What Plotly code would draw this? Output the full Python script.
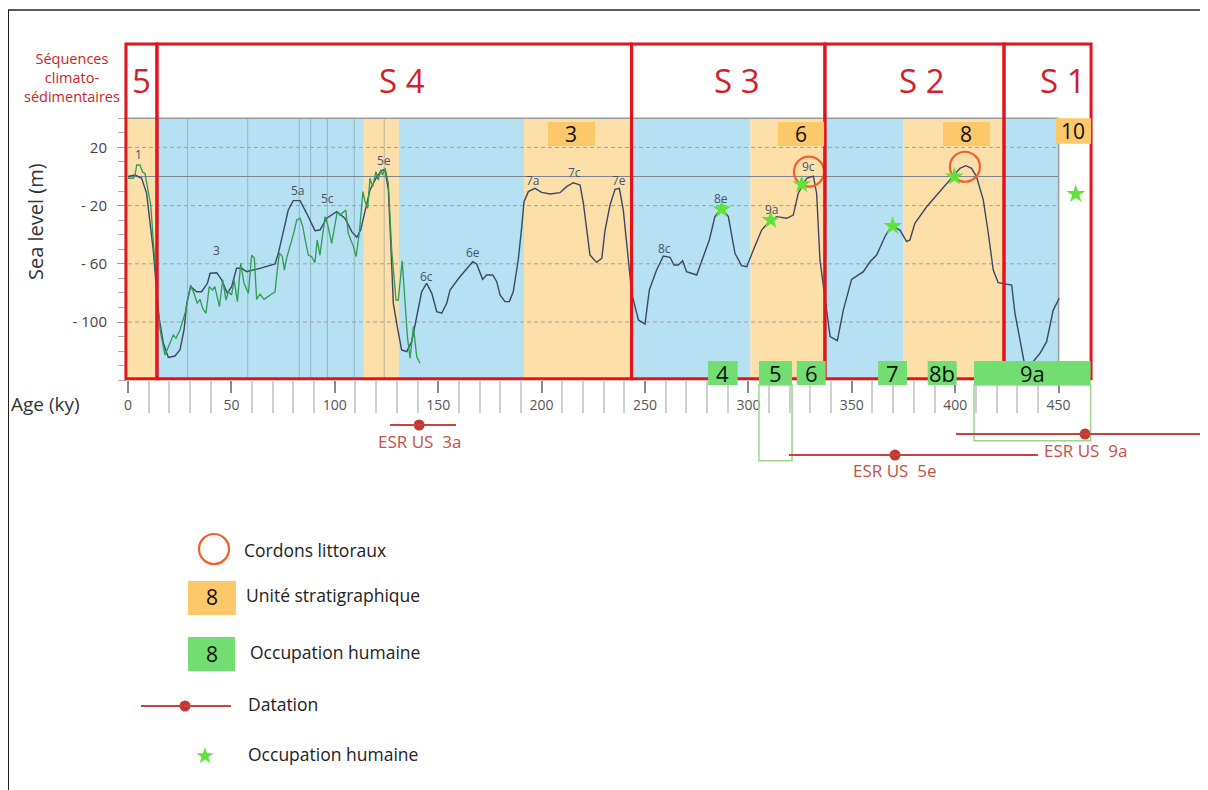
import plotly.graph_objects as go

# ---------------- data ----------------
# sea-level curve (dark) : age (ky) / sea level (m)
dark_age = [0, 3.4, 6.6, 9, 12.2, 14.7, 17.1, 19.5, 22.7, 25.1,
            27.1, 28.4, 30.3, 33.2, 35.6, 38.4, 39.7, 42.9, 45.3, 48,
            50.1, 52.5, 55, 57.4, 63.8, 71.1, 72.7, 75.1, 77.5, 79.9,
            83.2, 86.4, 90.4, 92.8, 96.1, 100.9, 104.9, 108.2, 110.6, 112.5,
            114.6, 117, 120.3, 122.7, 124.3, 125.9, 127, 128.3, 130.2, 132.3,
            134.8, 137.2, 139.6, 142, 144.4, 146.9, 149.3, 151.7, 154.1, 155.7,
            160.5, 163.8, 166.7, 168.6, 171.5, 173.4, 176.4, 178.3, 179.9, 182.3,
            184.4, 186.3, 188.7, 190.4, 191.5, 193.6, 196.8, 200, 204.1, 208.9,
            212.1, 215.3, 218.6, 220.2, 221.8, 223.4, 226.6, 229.1, 230.7, 233.1,
            235.5, 237.6, 239.5, 241.1, 243.6, 246.8, 250, 252.1, 255.6, 258.9,
            262.1, 264, 266.1, 268.2, 270.1, 275, 276.9, 281.1, 283.8, 287.1,
            290.3, 293.5, 296.7, 299.2, 302.4, 306.4, 310.8, 313.6, 318.5, 321.7,
            324.1, 328.2, 331.4, 333, 334.6, 337, 339.5, 343, 345.9, 349.9,
            355.6, 358.8, 362, 366, 369.2, 373.3, 376.5, 378.1, 380.5, 386.2,
            392.6, 399.1, 402.3, 405.1, 407.9, 410.3, 413.6, 416, 418.4, 420.8,
            424.1, 427.3, 428.9, 431.3, 433.3, 435.5, 437.8, 441, 444.2, 447.4, 450.3]
dark_m = [0, 1, -1.2, -11.6, -50.5, -94, -114.6, -124.3, -123.4, -119.2,
          -105.5, -87.2, -75.7, -79.2, -79.2, -73.4, -66.5, -66.1, -71.1, -80.3,
          -75.7, -63.1, -63.1, -65.4, -63.1, -60.1, -52.8, -36.8, -23, -16.6,
          -16.6, -25.3, -37.2, -36.8, -28.7, -24.2, -28.7, -37.9, -41.8, -36.8,
          -23, -9.3, -0.1, 4, 4.9, -9.3, -43.6, -87.2, -103.2, -119.2,
          -120.4, -113.5, -96.4, -79.2, -73.4, -80.3, -92.9, -94, -87.2, -78,
          -68.9, -63.1, -58.6, -60.1, -70.7, -67.7, -67.7, -72.3, -81.4, -86,
          -86, -79.2, -57.4, -34.5, -17.3, -10.4, -8.1, -10.9, -12, -11.1,
          -7, -4.3, -5.8, -18.4, -36.8, -54, -59, -56.2, -36.8, -19.6,
          -8.8, -8.1, -23, -43.6, -80.3, -98.6, -101.4, -78, -64.3, -54.6,
          -55.5, -60.8, -60.8, -57.9, -65.4, -67.7, -59.7, -43.6, -27.6, -21.9,
          -27.6, -52.8, -61.3, -62, -50.5, -36.8, -29.9, -27.6, -28.7, -26.5,
          -11.5, -1.2, 0.3, -11.5, -57.4, -84, -110, -112.8, -91.8, -70.7,
          -65.4, -58.6, -54, -41.4, -34, -36.8, -44.8, -43.6, -32.2, -20.8,
          -10.4, -0.1, 5.6, 7.4, 5.6, -0.1, -16.2, -39, -64.3, -73,
          -73.9, -74.6, -94, -112.4, -127.3, -131, -127.3, -121.5, -113.5, -91.8, -83.7]

# second sea-level record (green)
green_age = [0, 2.6, 3.4, 4.2, 5.8, 7.1, 8.2, 9.8, 11, 12.2,
             13.9, 15.5, 17.9, 19.5, 21.9, 23.2, 25.1, 27.6, 29.2, 30.3,
             31.9, 33.5, 34.8, 36.1, 37.7, 39.3, 40.9, 42, 44.2, 45.8,
             47.4, 48.5, 50.1, 51.3, 52.9, 54.5, 56.1, 58.2, 59.8, 61.1,
             62.2, 63.8, 65.8, 68.7, 71.1, 72.2, 73.2, 74.6, 75.6, 76.7,
             78, 79.2, 80.3, 81.6, 83.2, 84.5, 85.7, 87.2, 88.8, 90.4,
             91.5, 92.8, 95.3, 96.4, 98.5, 101.2, 102.5, 105.3, 106.5, 109,
             110.3, 111.9, 113.6, 114.6, 115.9, 117, 118.3, 119.9, 121, 122.2,
             123.1, 124.3, 125.9, 127.5, 129.6, 130.7, 132.6, 133.9, 135.1, 136.4,
             138, 139.6, 141.2]
green_m = [-1.2, -1.2, 1, 7.9, 7.9, 2.9, 2.2, -11.5, -19.6, -43.6,
           -78, -105.5, -122.7, -117, -108.9, -111.2, -105.5, -94, -82.6, -74.6,
           -80.3, -87.2, -84.4, -90.6, -94, -75.7, -78, -75.7, -89.5, -71.1,
           -84.9, -79.2, -81.4, -71.1, -86, -59.7, -73.4, -80.3, -54, -56.2,
           -84.4, -80.8, -84.4, -81.4, -79.2, -64.3, -52.8, -54.8, -64.3, -56.2,
           -50.5, -43.6, -37.9, -29.9, -28.7, -34.5, -43.6, -54, -55.1, -59.2,
           -43.6, -54, -27.6, -32.2, -45.9, -24.2, -26.5, -23, -39, -48.2,
           -55.1, -37.9, -10.4, -17.3, -21.9, -1.2, -7, 3.3, -2.4, 4.5,
           1, 5.6, -4.7, -50.5, -84.9, -84.9, -57.9, -82.6, -110.1, -125,
           -103.2, -123.8, -128.4]

# isotope (sub)stage labels on the curve
stage_labels = ["1", "3", "5a", "5c", "5e", "6c", "6e", "7a", "7c", "7e", "8c", "8e", "9a", "9c"]
stage_age = [5, 42.9, 82.4, 96.4, 123.9, 144.4, 166.7, 195.7, 215.7, 237.6, 259.2, 286.8, 311.3, 329]
stage_m = [14.8, -51, -9.8, -15, 10.9, -68.9, -52.4, -2.9, 2.6, -2.9, -49.8, -15, -23, 6.7]

# warm (orange) / cold (blue) bands
band_start = [0, 14, 114, 131, 191.5, 243.5, 301, 337, 375, 423.6]
band_end = [14, 114, 131, 191.5, 243.5, 301, 337, 375, 423.6, 450]
band_kind = ["warm", "cold", "warm", "cold", "warm", "cold", "warm", "cold", "warm", "cold"]
substage_lines = [28.8, 57.9, 82.8, 88.3, 96.4, 109.4, 123.9]

# climato-sedimentary sequences
seq_labels = ["5", "S 4", "S 3", "S 2", "S 1"]
seq_start = [-1, 14, 243.5, 337, 423.6]
seq_end = [14, 243.5, 337, 423.6, 465.7]
seq_label_age = [6.3, 132.5, 294.5, 384, 452]

# stratigraphic units (orange boxes)
unit_labels = ["3", "6", "8", "10"]
unit_start = [203.1, 314.3, 394.1, 448.6]
unit_end = [225.8, 336.6, 416.8, 465.7]
unit_bottom = [21, 21, 21, 22.5]
unit_top = [37.5, 37.5, 37.5, 40]

# human occupation levels (green boxes)
occ_labels = ["4", "5", "6", "7", "8b", "9a"]
occ_start = [280.5, 305.1, 323.4, 362.7, 386.7, 409.1]
occ_end = [294.8, 321.1, 337.4, 376.7, 400.7, 465.5]
occ_depth = [None, -195.3, None, None, None, -181.6]  # outlined extension below

# human occupation (stars) and beach ridges (circles)
star_age = [287.1, 310.8, 325.8, 369.8, 399.6, 458.3]
star_m = [-22.5, -29.9, -5.4, -34, -0.1, -12]
ridge_age = [329.3, 404.7]
ridge_m = [3.3, 6.7]

# ESR datings
esr_labels = ["ESR US\u00a0\u00a03a", "ESR US\u00a0\u00a05e", "ESR US\u00a0\u00a09a"]
esr_age = [140.8, 370.9, 462.8]
esr_lo = [126.7, 319.6, 400.4]
esr_hi = [158.6, 440, 520.8]
esr_row = [-170.8, -191.4, -177]

x_ticks = [0, 50, 100, 150, 200, 250, 300, 350, 400, 450]
y_ticks = [20, -20, -60, -100]
y_ticktext = ["20", "- 20", "- 60", "- 100"]

# ---------------- layout helpers ----------------
PAGE_W, PAGE_H = 1208, 790
BODY = 8                      # default page margin around the plot div
W, H = PAGE_W - BODY, PAGE_H - BODY
X0_PX, KY_PX = 128.0, 2.068   # page pixel of age 0, pixels per ky
Y0_PX, M_PX = 176.5, 1.455    # page pixel of sea level 0, pixels per m
x_range = [(BODY - X0_PX) / KY_PX, (PAGE_W - X0_PX) / KY_PX]
y_range = [(Y0_PX - PAGE_H) / M_PX, (Y0_PX - BODY) / M_PX]


def dx(p):  # page pixel column -> axis units (layout placement only)
    return (p - X0_PX) / KY_PX


def dy(p):
    return (Y0_PX - p) / M_PX


def paper_x(p):
    return (p - BODY) / W


def paper_y(p):
    return 1 - (p - BODY) / H


FONT = "Open Sans"
RED = "#e3141d"
BLUE = "#b5e1f3"
ORANGE = "#fde0a9"
UNIT_ORANGE = "#fcc869"
OCC_GREEN = "#72de72"
Y_TOP, Y_BOT = 40, -140
SEQ_TOP = 91.1
SEQ_BOT = -139

shapes = []
annotations = []

for s, e, k in zip(band_start, band_end, band_kind):
    shapes.append(dict(type="rect", xref="x", yref="y", x0=s, x1=e, y0=Y_BOT, y1=Y_TOP,
                       fillcolor=ORANGE if k == "warm" else BLUE, line=dict(width=0), layer="below"))
for v in substage_lines:
    shapes.append(dict(type="line", xref="x", yref="y", x0=v, x1=v, y0=Y_BOT, y1=Y_TOP,
                       line=dict(color="rgba(110,130,145,0.45)", width=1), layer="below"))
for v in y_ticks:
    shapes.append(dict(type="line", xref="x", yref="y", x0=0, x1=450, y0=v, y1=v,
                       line=dict(color="#a0a0a0", width=1, dash="4px,3px"), layer="below"))
shapes.append(dict(type="line", xref="x", yref="y", x0=0, x1=450, y0=0, y1=0,
                   line=dict(color="#7d8590", width=1), layer="below"))
shapes.append(dict(type="line", xref="x", yref="y", x0=-1, x1=450, y0=Y_TOP, y1=Y_TOP,
                   line=dict(color="#999999", width=1.5), layer="below"))
shapes.append(dict(type="line", xref="x", yref="y", x0=450, x1=450, y0=Y_BOT, y1=Y_TOP,
                   line=dict(color="#999999", width=1.5), layer="below"))

# sequence boxes
for s, e in zip(seq_start, seq_end):
    shapes.append(dict(type="rect", xref="x", yref="y", x0=s, x1=e, y0=SEQ_BOT, y1=SEQ_TOP,
                       line=dict(color=RED, width=3), fillcolor="rgba(0,0,0,0)", layer="above"))
for lab, xa in zip(seq_labels, seq_label_age):
    annotations.append(dict(x=xa, y=66.3, xref="x", yref="y", text=lab, showarrow=False,
                            font=dict(family=FONT, size=33, color="#d21f2b")))

# stratigraphic units
for lab, s, e, b, t in zip(unit_labels, unit_start, unit_end, unit_bottom, unit_top):
    shapes.append(dict(type="rect", xref="x", yref="y", x0=s, x1=e, y0=b, y1=t,
                       fillcolor=UNIT_ORANGE, line=dict(width=0), layer="above"))
    annotations.append(dict(x=(s + e) / 2, y=(b + t) / 2, xref="x", yref="y", text=lab,
                            showarrow=False, font=dict(family=FONT, size=21, color="#111111")))

# occupation boxes
for lab, s, e, d in zip(occ_labels, occ_start, occ_end, occ_depth):
    if d is not None:
        shapes.append(dict(type="rect", xref="x", yref="y", x0=s, x1=e, y0=d, y1=-143.3,
                           line=dict(color="#9dd48e", width=1.5), fillcolor="rgba(0,0,0,0)",
                           layer="above"))
    shapes.append(dict(type="rect", xref="x", yref="y", x0=s, x1=e, y0=-143.3, y1=-126.8,
                       fillcolor=OCC_GREEN, line=dict(width=0), layer="above"))
    annotations.append(dict(x=(s + e) / 2, y=-135, xref="x", yref="y", text=lab,
                            showarrow=False, font=dict(family=FONT, size=22, color="#111111")))

# ESR datings
for lab, a, lo, hi, r in zip(esr_labels, esr_age, esr_lo, esr_hi, esr_row):
    shapes.append(dict(type="line", xref="x", yref="y", x0=lo, x1=hi, y0=r, y1=r,
                       line=dict(color="#c9433b", width=2), layer="above"))
    annotations.append(dict(x=a, y=r, xref="x", yref="y", text=lab, showarrow=False,
                            yshift=-16, font=dict(family=FONT, size=17, color="#c4504b")))

# stage labels
for lab, a, m in zip(stage_labels, stage_age, stage_m):
    annotations.append(dict(x=a, y=m, xref="x", yref="y", text=lab, showarrow=False,
                            font=dict(family=FONT, size=12, color="#48516f")))

# titles
annotations.append(dict(x=dx(72), y=dy(77), xref="x", yref="y",
                        text="Séquences<br>climato-<br>sédimentaires", showarrow=False,
                        align="center", font=dict(family=FONT, size=14.5, color="#cc1f26")))
annotations.append(dict(x=dx(35), y=dy(222), xref="x", yref="y", text="Sea level (m)",
                        textangle=-90, showarrow=False,
                        font=dict(family=FONT, size=20, color="#333333")))
annotations.append(dict(x=dx(45), y=dy(404), xref="x", yref="y", text="Age (ky)",
                        showarrow=False, font=dict(family=FONT, size=19, color="#333333")))

# figure frame
shapes.append(dict(type="line", xref="paper", yref="paper", x0=paper_x(7), x1=1,
                   y0=paper_y(10), y1=paper_y(10), line=dict(color="#222222", width=1.5)))
shapes.append(dict(type="line", xref="paper", yref="paper", x0=paper_x(8), x1=paper_x(8),
                   y0=0, y1=paper_y(10), line=dict(color="#222222", width=2)))

# legend
shapes.append(dict(type="rect", xref="x", yref="y", x0=dx(188), x1=dx(236), y0=dy(615), y1=dy(581),
                   fillcolor=UNIT_ORANGE, line=dict(width=0)))
shapes.append(dict(type="rect", xref="x", yref="y", x0=dx(188), x1=dx(235), y0=dy(671), y1=dy(637),
                   fillcolor=OCC_GREEN, line=dict(width=0)))
shapes.append(dict(type="line", xref="x", yref="y", x0=dx(141), x1=dx(231), y0=dy(706), y1=dy(706),
                   line=dict(color="#c9433b", width=2)))
legend_texts = [("Cordons littoraux", 242, 550), ("Unité stratigraphique", 244, 595),
                ("Occupation humaine", 248, 652), ("Datation", 246, 704),
                ("Occupation humaine", 246, 754)]
for t, lx, ly in legend_texts:
    annotations.append(dict(x=dx(lx), y=dy(ly), xref="x", yref="y", text=t, showarrow=False,
                            xanchor="left", font=dict(family=FONT, size=17.5, color="#222222")))
for t, ly in [("8", 597), ("8", 654)]:
    annotations.append(dict(x=dx(212), y=dy(ly), xref="x", yref="y", text=t, showarrow=False,
                            font=dict(family=FONT, size=21, color="#111111")))

fig = go.Figure()
fig.add_trace(go.Scatter(x=dark_age, y=dark_m, mode="lines",
                         line=dict(color="#3b4668", width=1.4), hoverinfo="skip"))
fig.add_trace(go.Scatter(x=green_age, y=green_m, mode="lines",
                         line=dict(color="#2f9b53", width=1.3), hoverinfo="skip"))
fig.add_trace(go.Scatter(x=ridge_age, y=ridge_m, mode="markers",
                         marker=dict(symbol="circle-open", size=30, color="#f0602a",
                                     line=dict(width=2.2)), hoverinfo="skip"))
fig.add_trace(go.Scatter(x=star_age, y=star_m, mode="markers",
                         marker=dict(symbol="star", size=14, color="#5fe23a",
                                     line=dict(width=0)), hoverinfo="skip"))
fig.add_trace(go.Scatter(x=esr_age, y=esr_row, mode="markers",
                         marker=dict(symbol="circle", size=11, color="#bf3a30"), hoverinfo="skip"))
# legend marks
fig.add_trace(go.Scatter(x=[dx(214)], y=[dy(549)], mode="markers",
                         marker=dict(symbol="circle-open", size=30, color="#f0602a", line=dict(width=2.2)),
                         hoverinfo="skip"))
fig.add_trace(go.Scatter(x=[dx(185)], y=[dy(706)], mode="markers",
                         marker=dict(symbol="circle", size=11, color="#bf3a30"), hoverinfo="skip"))
fig.add_trace(go.Scatter(x=[dx(205)], y=[dy(756)], mode="markers",
                         marker=dict(symbol="star", size=13, color="#5fe23a", line=dict(width=0)),
                         hoverinfo="skip"))

fig.update_layout(
    width=W, height=H, margin=dict(l=0, r=0, t=0, b=0),
    paper_bgcolor="white", plot_bgcolor="white", showlegend=False,
    shapes=shapes, annotations=annotations,
    font=dict(family=FONT, color="#444444"),
    xaxis=dict(range=x_range, domain=[0, 1], anchor="free", position=paper_y(380),
               showgrid=False, zeroline=False, showline=False, automargin=False,
               tickmode="array", tickvals=x_ticks, ticks="outside", ticklen=12,
               tickcolor="#8a8a8a", tickwidth=1.5,
               tickfont=dict(family=FONT, size=14, color="#555555"),
               minor=dict(tickmode="array",
                          tickvals=[v for v in range(10, 450, 10) if v % 50],
                          ticks="outside", ticklen=32, tickcolor="#cfcfcf", tickwidth=1.5)),
    yaxis=dict(range=y_range, domain=[0, 1], anchor="free", position=paper_x(126),
               showgrid=False, zeroline=False, showline=False, automargin=False,
               tickmode="array", tickvals=y_ticks, ticktext=y_ticktext, ticks="outside",
               ticklen=9, tickcolor="#9a9a9a", tickwidth=1.2, ticklabelstandoff=7,
               tickfont=dict(family=FONT, size=15, color="#444444"),
               minor=dict(tickmode="array",
                          tickvals=[40, 30, 10, 0, -10, -30, -40, -50, -70, -80, -90, -110, -120, -130, -140],
                          ticks="outside", ticklen=8, tickcolor="#b0b0b0", tickwidth=1)),
)

fig.write_html("out.html")
